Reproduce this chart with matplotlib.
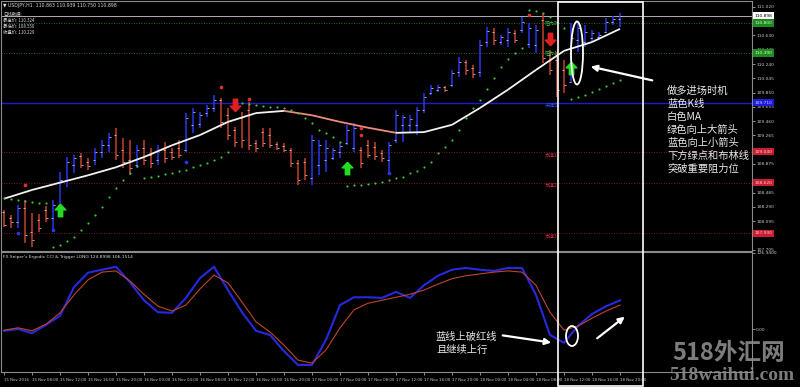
# -*- coding: utf-8 -*-
import numpy as np
import matplotlib
matplotlib.use('Agg')
import matplotlib.pyplot as plt
from matplotlib.path import Path
from matplotlib.patches import Ellipse, Rectangle, FancyArrowPatch
from matplotlib.collections import LineCollection
from matplotlib import transforms

CJK = ['Noto Sans CJK SC', 'DejaVu Sans']

# USDJPY H1 bars, 15 Nov 04:00 .. 18 Nov 20:00
opens = [108.22, 108.14, 108.08, 108.27, 107.95, 108.11, 108.25, 108.14, 108.31, 108.66,
         108.86, 108.98, 108.90, 108.93, 109.04, 109.13, 109.27, 109.07, 108.93, 108.86,
         109.09, 109.00, 108.93, 109.07, 109.04, 109.09, 109.07, 109.41, 109.42, 109.57,
         109.64, 109.75, 109.54, 109.34, 109.50, 109.61, 109.16, 109.31, 109.27, 109.15,
         109.12, 109.07, 108.89, 108.90, 108.68, 108.86, 108.93, 108.96, 109.04, 109.16,
         109.09, 109.07, 109.13, 109.11, 109.03, 108.93, 109.20, 109.41, 109.41, 109.41,
         109.61, 109.84, 109.89, 109.93, 109.95, 110.13, 110.27, 110.19, 110.13, 110.54,
         110.68, 110.54, 110.57, 110.66, 110.71, 110.51, 110.50, 110.84, 110.36, 110.30,
         110.16, 109.99, 110.57, 110.54, 110.60, 110.61, 110.68, 110.81, 110.86]
highs = [108.25, 108.18, 108.31, 108.38, 108.21, 108.19, 108.30, 108.38, 108.77, 108.97,
         109.00, 109.03, 108.96, 109.09, 109.20, 109.30, 109.37, 109.23, 109.20, 109.13,
         109.20, 109.09, 109.13, 109.18, 109.09, 109.20, 109.57, 109.64, 109.59, 109.68,
         109.82, 109.78, 109.64, 109.38, 109.59, 109.72, 109.20, 109.37, 109.37, 109.18,
         109.16, 109.09, 108.93, 108.96, 109.27, 109.20, 109.20, 109.09, 109.16, 109.41,
         109.43, 109.11, 109.20, 109.18, 109.07, 109.18, 109.61, 109.54, 109.54, 109.65,
         109.84, 109.95, 109.95, 109.94, 110.16, 110.34, 110.30, 110.23, 110.57, 110.75,
         110.73, 110.64, 110.73, 110.71, 110.88, 110.80, 110.77, 110.94, 110.43, 110.40,
         110.30, 110.80, 110.81, 110.77, 110.71, 110.68, 110.87, 110.90, 110.94]
lows = [108.01, 108.00, 108.00, 107.80, 107.74, 107.95, 108.08, 107.95, 108.18, 108.56,
        108.75, 108.82, 108.79, 108.86, 108.96, 109.04, 108.93, 108.82, 108.72, 108.82,
        108.86, 108.82, 108.86, 108.89, 108.93, 108.96, 109.04, 109.30, 109.37, 109.52,
        109.59, 109.37, 109.20, 109.11, 109.09, 109.07, 109.04, 109.11, 109.09, 109.07,
        109.04, 108.83, 108.59, 108.66, 108.59, 108.72, 108.77, 108.93, 108.96, 109.13,
        109.04, 108.82, 108.96, 108.93, 108.90, 108.72, 109.16, 109.18, 109.30, 109.27,
        109.57, 109.82, 109.86, 109.86, 109.93, 110.06, 110.09, 110.05, 110.06, 110.47,
        110.50, 110.50, 110.47, 110.53, 110.66, 110.46, 110.39, 110.25, 110.09, 109.79,
        109.84, 109.98, 110.40, 110.47, 110.54, 110.57, 110.66, 110.77, 110.75]
closes = [108.04, 108.08, 108.27, 107.90, 107.84, 108.00, 108.14, 108.31, 108.66, 108.90,
          108.96, 108.86, 108.85, 109.04, 109.13, 109.24, 109.00, 108.90, 108.82, 109.07,
          108.93, 108.89, 109.07, 108.96, 108.97, 109.00, 109.50, 109.59, 109.54, 109.64,
          109.75, 109.45, 109.27, 109.18, 109.20, 109.13, 109.09, 109.16, 109.13, 109.09,
          109.07, 108.89, 108.66, 108.72, 109.20, 109.13, 109.09, 109.07, 109.12, 109.34,
          109.37, 108.89, 109.00, 108.98, 108.96, 109.13, 109.54, 109.52, 109.49, 109.61,
          109.79, 109.91, 109.93, 109.89, 110.12, 110.27, 110.16, 110.10, 110.50, 110.69,
          110.57, 110.61, 110.68, 110.57, 110.81, 110.73, 110.71, 110.32, 110.16, 109.89,
          109.95, 110.60, 110.73, 110.68, 110.66, 110.64, 110.81, 110.86, 110.90]

# moving average (white line), read every 4 bars
ma_idx = list(range(0, 89, 4))
ma_val = [108.40, 108.52, 108.62, 108.72, 108.83, 108.97, 109.13, 109.27, 109.45, 109.57,
          109.60, 109.54, 109.45, 109.37, 109.30, 109.31, 109.41, 109.64, 109.89, 110.16,
          110.42, 110.54, 110.72]

# parabolic SAR dots, one per bar
sar = [108.41, 108.40, 108.38, 108.37, 108.36, 108.34, 108.34,
       107.74, 107.77, 107.82, 107.88, 107.97, 108.07, 108.18, 108.29, 108.42, 108.55,
       108.66, 108.75, 108.85,
       108.68, 108.70, 108.71, 108.74, 108.75, 108.78,
       108.79, 108.83, 108.86, 108.89, 108.93, 108.97, 109.04,
       109.72, 109.71, 109.69, 109.68, 109.67, 109.65, 109.65, 109.64, 109.61, 109.57,
       109.50, 109.43, 109.34, 109.30, 109.24, 109.18,
       108.57, 108.59, 108.59, 108.60, 108.62, 108.63, 108.66, 108.68, 108.70, 108.75,
       108.78, 108.83, 108.90, 109.02, 109.11, 109.20, 109.34, 109.50, 109.64, 109.75,
       109.90, 110.05, 110.20, 110.31, 110.39, 110.46,
       110.98, 110.96, 110.94, 110.88, 110.81, 110.73,
       109.76, 109.79, 109.82, 109.86, 109.90, 109.94, 109.98, 110.02]

# fractal dots
frac_up_idx = [3, 31, 35, 51, 51, 75]
frac_up_val = [108.59, 109.93, 109.76, 109.37, 109.27, 110.91]
frac_dn_idx = [2, 7, 26, 55]
frac_dn_val = [107.93, 107.97, 108.90, 108.75]

# signal arrows
buy_idx = [8, 49, 81]
buy_val = [108.25, 108.82, 110.19]
sell_idx = [33, 78]
sell_val = [109.68, 110.58]

# key levels
price_now = 110.898
green_levels = [110.80, 110.39]
blue_level = 109.71
red_levels = [109.04, 108.62, 107.93]
# labels that are not hidden by the level boxes
price_ticks = [111.020, 110.630, 110.435, 110.240, 110.045, 109.850, 109.655,
               109.460, 109.265, 108.875, 108.485, 108.290, 108.095, 107.705]

# ergodic CCI sub window, every 2 bars
osc_idx = list(range(0, 89, 2))
osc_blue = [-3, 0, -7, 7, 22, 70, 94, 99, 104, 78, 48, 28, 27, 52, 85, 104, 65, 28, -3, -10,
            -37, -60, -60, -18, 40, 53, 53, 52, 62, 52, 73, 89, 99, 102, 99, 97, 102, 102,
            57, -10, -23, 5, 25, 38, 48]
osc_red = [-2, 2, -3, 8, 27, 57, 82, 95, 97, 80, 58, 38, 30, 40, 67, 90, 77, 45, 12, -5,
           -27, -52, -57, -35, 2, 32, 43, 48, 53, 58, 65, 75, 84, 89, 92, 95, 97, 95,
           73, 28, -2, 5, 18, 30, 40]

time_ticks = list(range(0, 89, 4))
time_labels = ['15 Nov 2016', '15 Nov 08:00', '15 Nov 12:00', '15 Nov 16:00', '15 Nov 20:00',
               '16 Nov 00:00', '16 Nov 04:00', '16 Nov 08:00', '16 Nov 12:00', '16 Nov 16:00',
               '16 Nov 20:00', '17 Nov 00:00', '17 Nov 04:00', '17 Nov 08:00', '17 Nov 12:00',
               '17 Nov 16:00', '17 Nov 20:00', '18 Nov 00:00', '18 Nov 04:00', '18 Nov 08:00',
               '18 Nov 12:00', '18 Nov 16:00', '18 Nov 20:00']

notes = ['做多进场时机', '蓝色K线', '白色MA', '绿色向上大箭头', '蓝色向上小箭头',
         '下方绿点和布林线', '突破重要阻力位']
notes2 = ['蓝线上破红线', '且继续上行']

W, H = 800, 387
fig = plt.figure(figsize=(8, 3.87), dpi=100, facecolor='black')


def px_axes(x0, y0, x1, y1):
    return fig.add_axes([x0 / W, 1 - y1 / H, (x1 - x0) / W, (y1 - y0) / H])


ax = px_axes(1, 1, 752, 251)
sub = px_axes(1, 252, 752, 372)
for a in (ax, sub):
    a.set_facecolor('black')
    a.set_xlim((1 - 4) / 7, (752 - 4) / 7)
    for s in a.spines.values():
        s.set_color('#8a8a8a')
        s.set_linewidth(0.8)
    a.yaxis.tick_right()
    a.tick_params(axis='y', labelsize=3.2, colors='#c8c8c8', length=2, width=0.5, pad=1)
ax.set_ylim(107.686, 111.101)
sub.set_ylim(-71.8, 128.6)

# main panel: key levels
ax.axhline(price_now, color='#b0b0b0', lw=0.7)
for lv in green_levels:
    ax.axhline(lv, color='#2e8b2e', lw=0.6, ls=(0, (1, 2)))
ax.axhline(blue_level, color='#1c1cc8', lw=1.0)
for lv in red_levels:
    ax.axhline(lv, color='#a02030', lw=0.6, ls=(0, (1, 2)))

# bars
idx = np.arange(len(closes))
up = np.array(closes) >= np.array(opens)
cols = np.where(up, '#2a36f0', '#c8402e')
ax.vlines(idx, lows, highs, colors=cols, lw=1.1, zorder=3)
ax.hlines(opens, idx - 0.35, idx, colors='#c8c8c8', lw=0.6, zorder=3)
ax.hlines(closes, idx, idx + 0.35, colors='#c8c8c8', lw=0.6, zorder=3)

# MA: white when rising, salmon when falling
pts = np.column_stack([ma_idx, ma_val])
segs = np.stack([pts[:-1], pts[1:]], axis=1)
seg_cols = ['#f2f2f2' if b >= a else '#f08a7a' for a, b in zip(ma_val[:-1], ma_val[1:])]
ax.add_collection(LineCollection(segs, colors=seg_cols, linewidths=1.3, zorder=4))

ax.scatter(idx, sar, s=2.4, color='#3cc83c', zorder=4, linewidths=0)
ax.scatter(frac_up_idx, frac_up_val, s=7, color='#e03030', zorder=4, linewidths=0)
ax.scatter(frac_dn_idx, frac_dn_val, s=7, color='#2a36f0', zorder=4, linewidths=0)

arrow_up = Path([(0, 1), (0.85, 0.1), (0.35, 0.1), (0.35, -1), (-0.35, -1),
                 (-0.35, 0.1), (-0.85, 0.1), (0, 1)])
arrow_dn = Path([(x, -y) for x, y in arrow_up.vertices])
ax.plot(buy_idx, buy_val, ls='none', marker=arrow_up, ms=9, color='#22dd22', zorder=5)
ax.plot(sell_idx, sell_val, ls='none', marker=arrow_dn, ms=9, color='#e02020', zorder=5)

# small level names in chart
ax.text(77.3, green_levels[0], '阻力2', family=CJK, fontsize=3.6, color='#3cc83c', va='center')
ax.text(77.3, green_levels[1], '阻力1', family=CJK, fontsize=3.6, color='#3cc83c', va='center')
ax.text(77.3, blue_level - 0.04, '关键位', family=CJK, fontsize=3.6, color='#3050ff', va='center')
for n, lv in enumerate(red_levels):
    ax.text(77.3, lv - 0.04, '支撑%d' % (n + 1), family=CJK, fontsize=3.6, color='#d03040',
            va='center')

ax.set_yticks(price_ticks)
ax.set_yticklabels(['%.3f' % v for v in price_ticks])
ax.set_xticks([])

# right-strip highlighted labels
tr = transforms.blended_transform_factory(ax.transAxes, ax.transData)
boxes = [(price_now, 'white', 'black')]
boxes += [(lv, '#1f8a1f', '#d8ffd8') for lv in green_levels]
boxes += [(blue_level, '#1c1ce0', '#d0d0ff')]
boxes += [(lv, '#c81e32', '#ffd0d0') for lv in red_levels]
for lv, bg, fg in boxes:
    ax.text(1.004, lv, '%.3f' % lv, transform=tr, fontsize=3.2, color=fg, va='center',
            ha='left', clip_on=False, zorder=6,
            bbox=dict(boxstyle='square,pad=0.35', fc=bg, ec='none'))

# sub window
sub.plot(osc_idx, osc_red, color='#c0442a', lw=0.8, zorder=3)
sub.plot(osc_idx, osc_blue, color='#2828e0', lw=1.5, zorder=2)
sub.set_yticks([126.94, 0])
sub.set_yticklabels(['126.9400', '0.00'])
sub.set_xticks(time_ticks)
sub.set_xticklabels(time_labels)
sub.tick_params(axis='x', labelsize=2.8, colors='#c8c8c8', length=2, width=0.5, pad=2.5)
for lab in sub.get_xticklabels():
    lab.set_ha('left')

# overlay in pixel coordinates
ov = fig.add_axes([0, 0, 1, 1])
ov.set_xlim(0, W)
ov.set_ylim(H, 0)
ov.axis('off')
ov.patch.set_alpha(0)

ov.text(3, 5, '▼ USDJPY,H1  110.863 110.939 110.750 110.898', fontsize=3.3,
        color='#d8d8d8', va='center')
hdr = ['日线数据:', '最高价: 110.324', '最低价: 108.550', '收盘价: 110.229']
for n, t in enumerate(hdr):
    ov.text(3, 14 + n * 6, t, family=CJK, fontsize=3.2, color='#d8d8d8', va='center')
ov.text(3, 257, "FX Sniper's Ergodic CCI & Trigger LONG 124.8998 106.1514", fontsize=3.2,
        color='#d8d8d8', va='center')

ov.add_patch(Rectangle((558, 2), 85, 384, fill=False, ec='white', lw=1.2, zorder=7))
ov.add_patch(Ellipse((577, 53), 12, 63, fill=False, ec='white', lw=1.3, zorder=7))
ov.add_patch(Ellipse((572, 336), 12, 20, fill=False, ec='white', lw=1.3, zorder=7))
for p0, p1 in [((655, 81), (588, 66)), ((500, 335), (554, 343)), ((595, 340), (627, 315))]:
    ov.add_patch(FancyArrowPatch(p0, p1, arrowstyle='-|>', mutation_scale=9, color='white',
                                 lw=1.6, zorder=7))

for n, t in enumerate(notes):
    ov.text(667, 91 + n * 13, t, family=CJK, fontsize=7.4, color='#e8e8e8', va='center')
for n, t in enumerate(notes2):
    ov.text(436, 337 + n * 13, t, family=CJK, fontsize=7.4, color='#e8e8e8', va='center')

ov.text(729, 353, '518外汇网', family=CJK, fontsize=17, fontweight='bold', style='italic',
        color='#8a8a8a', ha='center', va='center', alpha=0.9, zorder=8)
ov.text(732, 376, '518waihui.com', family=['Liberation Serif', 'DejaVu Serif'], fontsize=14,
        fontweight='bold', color='#8a8a8a', ha='center', va='center', alpha=0.9, zorder=8)

fig.savefig('out.png', dpi=100, facecolor='black')
